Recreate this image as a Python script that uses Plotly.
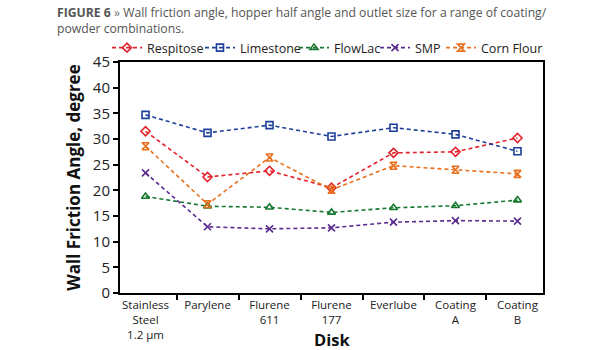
import plotly.graph_objects as go

categories = ["Stainless<br>Steel<br>1.2 μm", "Parylene", "Flurene<br>611", "Flurene<br>177",
              "Everlube", "Coating<br>A", "Coating<br>B"]
respitose = [31.5, 22.6, 23.8, 20.5, 27.3, 27.5, 30.2]
limestone = [34.7, 31.2, 32.7, 30.5, 32.2, 30.9, 27.6]
flowlac = [18.8, 16.9, 16.7, 15.7, 16.6, 17.0, 18.1]
smp = [23.4, 12.9, 12.5, 12.7, 13.8, 14.1, 14.0]
corn_flour = [28.6, 17.3, 26.4, 20.1, 24.8, 24.0, 23.2]
y_ticks = [0, 5, 10, 15, 20, 25, 30, 35, 40, 45]

series = [
    ("Respitose", respitose, "#e3232c", "diamond-open"),
    ("Limestone", limestone, "#1e3f9a", "square-open"),
    ("FlowLac", flowlac, "#17792f", "triangle-up-open"),
    ("SMP", smp, "#5a2b8f", "x-thin-open"),
    ("Corn Flour", corn_flour, "#e8701f", "hourglass-open"),
]
legend_text_x = [145, 238, 332, 413, 479]  # pixel x where each legend label starts

font_family = "Open Sans, Noto Sans, sans-serif"
W_PLOT, H_PLOT, L, T = 423, 231, 120, 62

fig = go.Figure()
legend_layout = {}
for i, (name, vals, color, sym) in enumerate(series):
    lname = "legend" if i == 0 else f"legend{i + 1}"
    fig.add_trace(go.Scatter(
        x=categories, y=vals, name=name, mode="lines+markers", legend=lname,
        line=dict(color=color, width=1.6, dash="4px,3px"),
        marker=dict(symbol=sym, size=7, color=color, line=dict(color=color, width=1.6)),
    ))
    legend_layout[lname] = dict(
        orientation="h", x=(legend_text_x[i] - 38 - L) / W_PLOT, xanchor="left",
        y=1 + (T - 48) / H_PLOT, yanchor="middle",
        font=dict(size=12.5, color="#222"), itemwidth=30,
        bgcolor="rgba(0,0,0,0)",
    )

fig.update_layout(
    width=615, height=350,
    margin=dict(l=120, r=72, t=62, b=57, autoexpand=False),
    paper_bgcolor="white", plot_bgcolor="white",
    font=dict(family=font_family, size=13, color="#222"),
    showlegend=True,
    xaxis=dict(
        type="category", showline=True, linecolor="black", linewidth=2, mirror=True,
        ticks="outside", tickson="boundaries", ticklen=5, tickwidth=2, tickcolor="black",
        showgrid=False, tickangle=0, automargin=False, tickfont=dict(size=11.5, color="#222"),
    ),
    yaxis=dict(
        range=[0, 45], tickvals=y_ticks, showline=True, linecolor="black", linewidth=2,
        mirror=True, ticks="outside", ticklen=5, tickwidth=2, tickcolor="black",
        showgrid=False, zeroline=False, automargin=False, tickfont=dict(size=15, color="#222"),
        title=dict(text="<b>Wall Friction Angle, degree</b>", font=dict(size=17, color="#111"),
                   standoff=8),
    ),
    **legend_layout,
)

fig.add_annotation(
    xref="paper", yref="paper", x=0.5, y=-(339.5 - T - H_PLOT) / H_PLOT,
    xanchor="center", yanchor="middle", showarrow=False, borderpad=0,
    text="<b>Disk</b>", font=dict(family=font_family, size=16.5, color="#111"),
)

fig.add_annotation(
    xref="paper", yref="paper", x=(55 - L) / W_PLOT, y=1 + (T - 2) / H_PLOT,
    xanchor="left", yanchor="top", align="left", showarrow=False,
    text="<b>FIGURE 6</b> <span style='color:#777'>»</span> Wall friction angle, hopper half angle and outlet size for a range of coating/<br>powder combinations.",
    font=dict(family=font_family, size=12.2, color="#555"),
)

fig.write_html("out.html")
